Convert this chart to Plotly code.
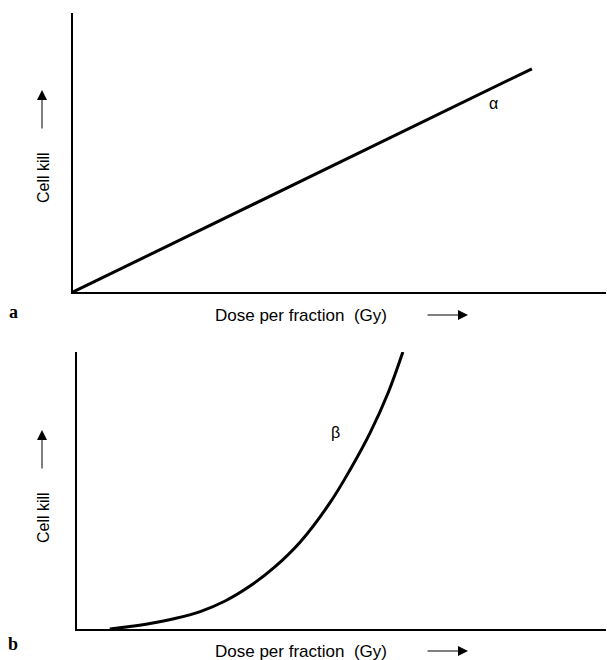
import plotly.graph_objects as go

# Panel a: linear (alpha) component of cell kill vs dose per fraction
dose_a = [0.0, 8.61]
kill_a = [0.0, 0.80]

# Panel b: quadratic (beta) component of cell kill vs dose per fraction
dose_b = [0.62, 1.00, 1.38, 1.85, 2.33, 2.80, 3.27, 3.74, 4.22, 4.78, 5.16, 5.54, 5.88, 6.16]
kill_b = [0.0, 0.009, 0.020, 0.038, 0.063, 0.101, 0.155, 0.224, 0.314, 0.455, 0.574, 0.708, 0.852, 1.0]

panel_letters = ["a", "b"]
curve_labels = ["α", "β"]
x_title = "Dose per fraction  (Gy)"
y_title = "Cell kill"

W, H = 607, 660
FONT = "Liberation Sans, Arial, Helvetica, sans-serif"
SERIF = "Liberation Serif, Times New Roman, serif"


def px(x):
    return x / W


def py(y):
    return 1 - y / H


fig = go.Figure()
fig.add_trace(go.Scatter(x=dose_a, y=kill_a, mode="lines",
                         line=dict(color="black", width=3),
                         xaxis="x", yaxis="y", cliponaxis=False, showlegend=False))
fig.add_trace(go.Scatter(x=dose_b, y=kill_b, mode="lines",
                         line=dict(color="black", width=3, shape="spline", smoothing=1.0),
                         xaxis="x2", yaxis="y2", cliponaxis=False, showlegend=False))

axis_common = dict(showgrid=False, zeroline=False, showticklabels=False, ticks="",
                   showline=True, linecolor="black", linewidth=2)

fig.update_layout(
    width=W, height=H,
    margin=dict(l=0, r=0, t=0, b=0),
    paper_bgcolor="white", plot_bgcolor="white",
    xaxis=dict(domain=[px(73), px(606)], range=[0, 10], anchor="y", **axis_common),
    yaxis=dict(domain=[py(292), py(13)], range=[0, 1], anchor="x", **axis_common),
    xaxis2=dict(domain=[px(77), px(606)], range=[0, 10], anchor="y2", **axis_common),
    yaxis2=dict(domain=[py(629), py(352)], range=[0, 1], anchor="x2", **axis_common),
)

ann = []
# axis titles, panel letters and arrows for both panels
for (label_y, ycenter, arrow_top, letter_y, letter) in [
    (315, 178, 90, 312, panel_letters[0]),
    (651, 518, 430, 644, panel_letters[1]),
]:
    ann.append(dict(x=px(213), y=py(label_y), xref="paper", yref="paper",
                    text=x_title, showarrow=False, xanchor="left", yanchor="middle",
                    font=dict(family=FONT, size=17, color="black")))
    ann.append(dict(x=px(468), y=py(label_y), xref="paper", yref="paper",
                    ax=-42, ay=0, text="", showarrow=True, arrowhead=2,
                    arrowsize=2, arrowwidth=1, arrowcolor="black"))
    ann.append(dict(x=px(43), y=py(ycenter), xref="paper", yref="paper",
                    text=y_title, textangle=-90, showarrow=False,
                    xanchor="center", yanchor="middle",
                    font=dict(family=FONT, size=16, color="black")))
    ann.append(dict(x=px(42), y=py(arrow_top), xref="paper", yref="paper",
                    ax=0, ay=40, text="", showarrow=True, arrowhead=2,
                    arrowsize=2, arrowwidth=1, arrowcolor="black"))
    ann.append(dict(x=px(13), y=py(letter_y), xref="paper", yref="paper",
                    text="<b>%s</b>" % letter, showarrow=False,
                    xanchor="center", yanchor="middle",
                    font=dict(family=SERIF, size=18, color="black")))

# curve labels
ann.append(dict(x=px(500), y=py(93), xref="paper", yref="paper",
                text=curve_labels[0], showarrow=False,
                font=dict(family=FONT, size=16, color="black")))
ann.append(dict(x=px(335), y=py(443), xref="paper", yref="paper",
                text=curve_labels[1], showarrow=False,
                font=dict(family=FONT, size=16, color="black")))

fig.update_layout(annotations=ann)
fig.write_html("out.html")
